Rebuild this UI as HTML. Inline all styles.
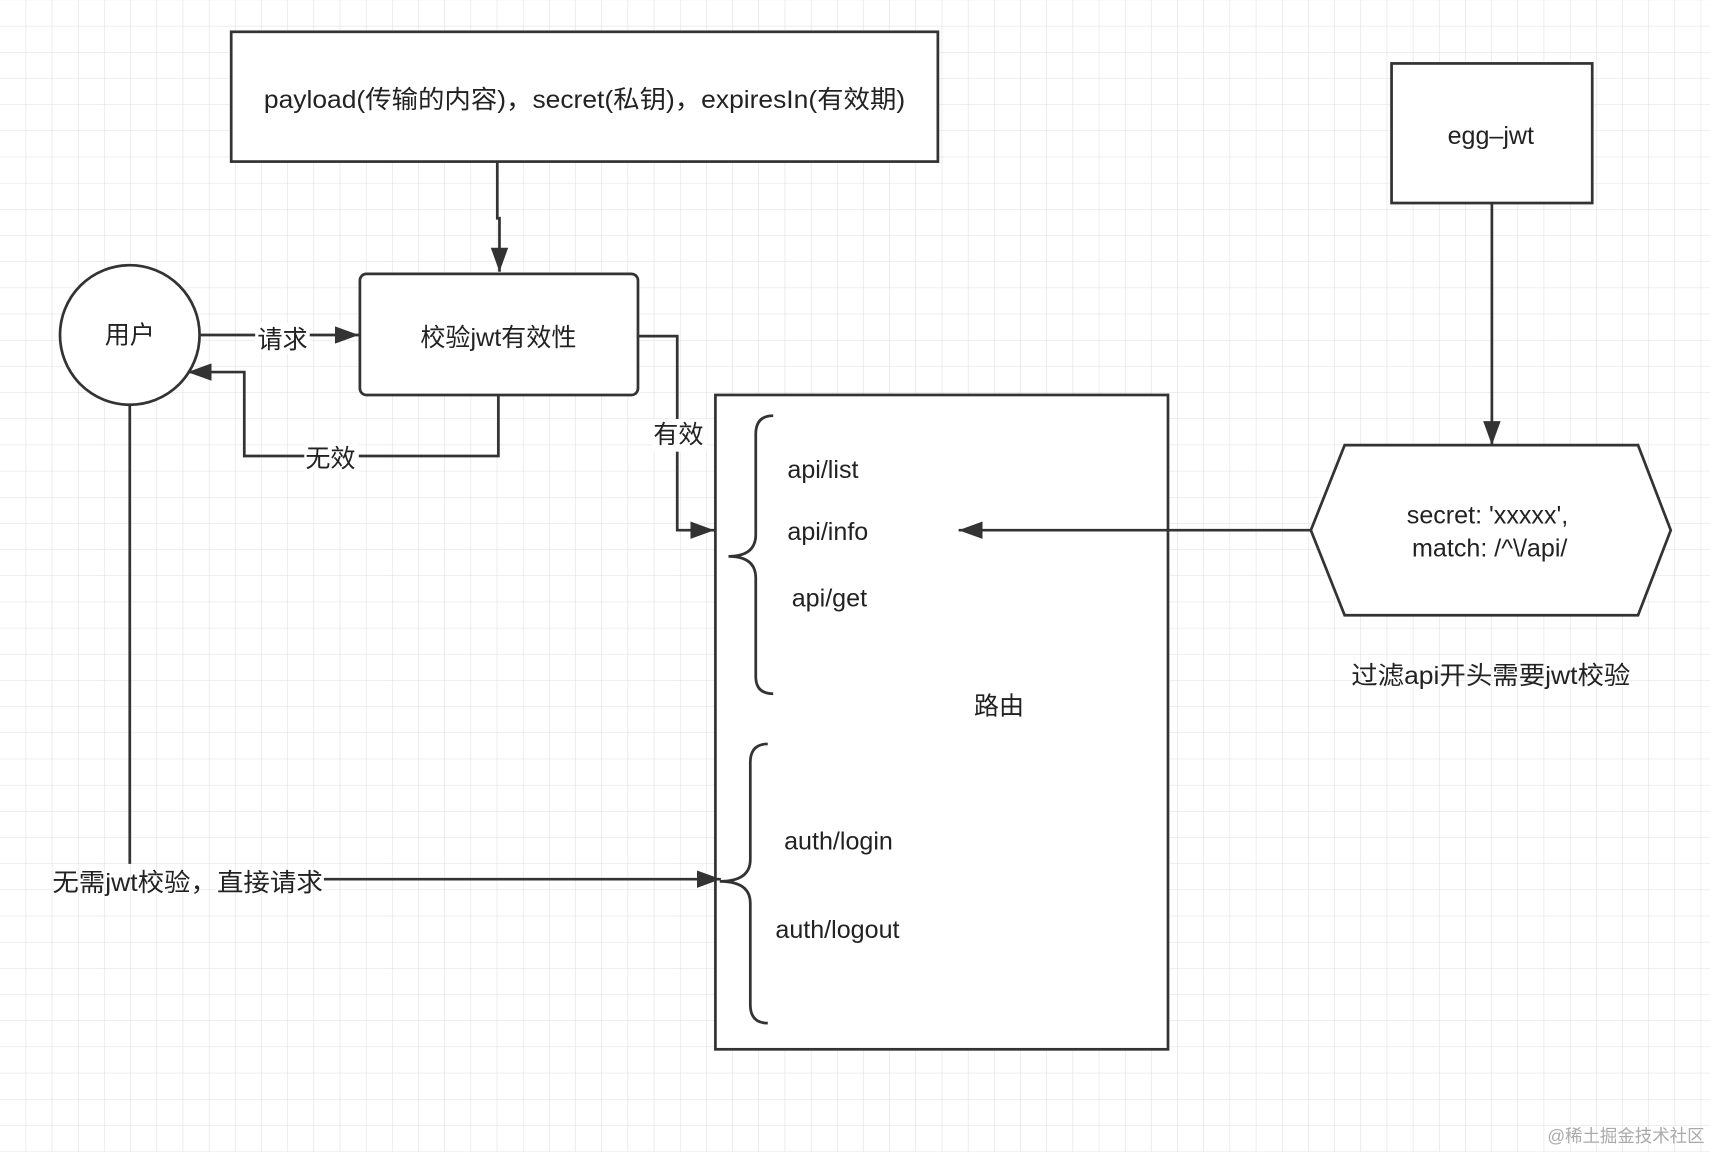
<!DOCTYPE html>
<html><head><meta charset="utf-8"><style>
html,body{margin:0;padding:0;background:#fff}
svg{display:block}
text{font-family:"Liberation Sans","Noto Sans CJK SC",sans-serif;fill:#222}
</style></head><body>
<svg width="1710" height="1152" viewBox="0 0 1568 1056" xmlns="http://www.w3.org/2000/svg">
<defs>
<pattern id="g" width="24" height="24" patternUnits="userSpaceOnUse">
<path d="M24 0V24M0 24H24" fill="none" stroke="#dedede" stroke-width="1"/>
</pattern>
<marker id="b" markerWidth="22" markerHeight="16" refX="22" refY="8" orient="auto" markerUnits="userSpaceOnUse">
<path d="M0 0L22 8L0 16Z" fill="#333"/>
</marker>
</defs>
<rect width="1568" height="1056" fill="url(#g)"/>
<g fill="none" stroke="#333" stroke-width="2.5">
<rect x="212" y="29" width="648" height="119" fill="#fff"/>
<rect x="1276" y="58" width="184" height="128" fill="#fff"/>
<polygon points="1233,408 1502,408 1532,486 1502,564 1233,564 1202,486" fill="#fff"/>
<circle cx="119" cy="307" r="64" fill="#fff"/>
<rect x="330" y="251" width="255" height="111" rx="6" fill="#fff"/>
<rect x="656" y="362" width="415" height="600" fill="#fff"/>
<path d="M456 148V200H458V249" marker-end="url(#b)"/>
<path d="M1368 186V408" marker-end="url(#b)"/>
<path d="M184 307H329" marker-end="url(#b)"/>
<path d="M457 362V418H224V341H172" marker-end="url(#b)"/>
<path d="M585 308H621V486H655" marker-end="url(#b)"/>
<path d="M1202 486H879" marker-end="url(#b)"/>
<path d="M119 371V792"/>
<path d="M297 806H661" marker-end="url(#b)"/>
<path d="M709 381Q693 381 693 398V490Q693 510 668 510Q693 510 693 530V620Q693 636 709 636"/>
<path d="M704 682Q688 682 688 699V788Q688 808 660 808Q688 808 688 828V921Q688 938 704 938"/>
</g>
<rect x="234" y="296" width="50" height="28" fill="#fff"/>
<rect x="279" y="405" width="50" height="28" fill="#fff"/>
<rect x="598" y="384" width="50" height="30" fill="#fff"/>
<g font-size="23" text-anchor="middle">
<text x="536" y="99" textLength="588" lengthAdjust="spacingAndGlyphs">payload(传输的内容)，secret(私钥)，expiresIn(有效期)</text>
<text x="1367" y="132">egg–jwt</text>
<text x="1364" y="480">secret: 'xxxxx',</text>
<text x="1366" y="510">match: /^\/api/</text>
<text x="1367" y="627" textLength="256" lengthAdjust="spacingAndGlyphs">过滤api开头需要jwt校验</text>
<text x="119" y="315">用户</text>
<text x="457" y="317">校验jwt有效性</text>
<text x="259" y="319">请求</text>
<text x="303" y="428">无效</text>
<text x="622" y="406">有效</text>
<text x="916" y="655">路由</text>
<text x="172" y="817" textLength="248" lengthAdjust="spacingAndGlyphs">无需jwt校验，直接请求</text>
</g>
<g font-size="23">
<text x="722" y="438">api/list</text>
<text x="722" y="495">api/info</text>
<text x="726" y="556">api/get</text>
<text x="719" y="779">auth/login</text>
<text x="711" y="860">auth/logout</text>
</g>
<text x="1563" y="1047" font-size="16" text-anchor="end" style="fill:#aaa">@稀土掘金技术社区</text>
</svg>
</body></html>
